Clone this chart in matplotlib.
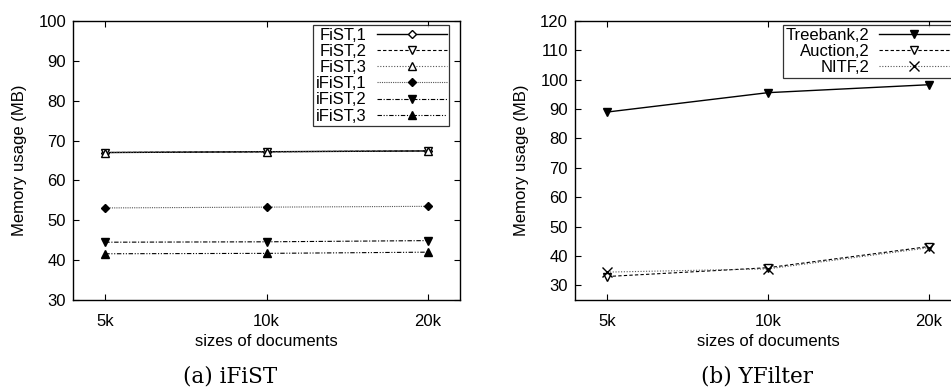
import matplotlib
matplotlib.use("Agg")
import matplotlib.pyplot as plt

plt.rcParams["font.family"] = ["Liberation Sans", "DejaVu Sans"]

sizes = ["5k", "10k", "20k"]

# (a) iFiST
fist_1 = [67.0, 67.2, 67.4]
fist_2 = [67.0, 67.2, 67.4]
fist_3 = [67.0, 67.2, 67.4]
ifist_1 = [53.1, 53.3, 53.5]
ifist_2 = [44.5, 44.6, 44.9]
ifist_3 = [41.6, 41.7, 42.0]

# (b) YFilter
treebank_2 = [89.0, 95.6, 98.3]
auction_2 = [33.0, 36.0, 43.2]
nitf_2 = [34.5, 35.6, 42.8]

FS = 12


def style_axes(ax, ylim, yticks):
    x = range(len(sizes))
    ax.set_xticks(list(x))
    ax.set_xticklabels(sizes)
    ax.set_xlim(-0.2, 2.2)
    ax.set_ylim(*ylim)
    ax.set_yticks(yticks)
    ax.tick_params(axis="both", direction="in", top=True, right=True, length=4, width=0.8,
                   labelsize=FS)
    ax.tick_params(axis="x", pad=10)
    ax.tick_params(axis="y", pad=5)
    ax.set_xlabel("sizes of documents", fontsize=FS, labelpad=4)
    ax.set_ylabel("Memory usage (MB)", fontsize=FS, labelpad=8)
    for s in ax.spines.values():
        s.set_linewidth(1.0)


def right_align_legend(leg):
    for col in leg._legend_handle_box.get_children():
        col.align = "right"


fig = plt.figure(figsize=(9.51, 3.87), dpi=100)

# left panel
ax1 = fig.add_axes([73 / 951, 1 - 300 / 387, 387 / 951, 279 / 387])
x = list(range(len(sizes)))
ms = 5.5
ax1.plot(x, fist_1, color="black", lw=1.0, ls="-", marker="D", mfc="white", ms=4.5, label="FiST,1")
ax1.plot(x, fist_2, color="black", lw=0.8, ls=(0, (3, 2)), marker="v", mfc="white", ms=ms, label="FiST,2")
ax1.plot(x, fist_3, color="#555555", lw=0.8, ls=(0, (1, 1.5)), marker="^", mfc="white", mec="black", ms=ms, label="FiST,3")
ax1.plot(x, ifist_1, color="#555555", lw=0.8, ls=(0, (1, 1)), marker="D", mfc="black", mec="black", ms=4.5, label="iFiST,1")
ax1.plot(x, ifist_2, color="black", lw=0.8, ls=(0, (4, 1.5, 1, 1.5)), marker="v", mfc="black", ms=ms, label="iFiST,2")
ax1.plot(x, ifist_3, color="black", lw=0.8, ls=(0, (4, 1.5, 1, 1.5, 1, 1.5)), marker="^", mfc="black", ms=ms, label="iFiST,3")
style_axes(ax1, (30, 100), list(range(30, 101, 10)))
leg1 = ax1.legend(loc="upper right", bbox_to_anchor=(0.972, 0.985), markerfirst=False,
                  fontsize=FS, frameon=True, fancybox=False, edgecolor="black",
                  borderpad=0.15, labelspacing=0.07, handlelength=4.2, handletextpad=0.6,
                  borderaxespad=0.0)
leg1.get_frame().set_linewidth(0.9)
right_align_legend(leg1)
fig.text(230 / 951, 1 - 376 / 387, "(a) iFiST", ha="center", va="center",
         fontsize=15.5, family="DejaVu Serif")

# right panel (cropped at the figure's right edge)
ax2 = fig.add_axes([575 / 951, 1 - 300 / 387, 386 / 951, 279 / 387])
ax2.plot(x, treebank_2, color="black", lw=1.0, ls="-", marker="v", mfc="black", ms=ms, label="Treebank,2")
ax2.plot(x, auction_2, color="black", lw=0.8, ls=(0, (3, 2)), marker="v", mfc="white", ms=ms, label="Auction,2")
ax2.plot(x, nitf_2, color="#555555", lw=0.8, ls=(0, (1, 1.5)), marker="x", mec="black", ms=6.5, label="NITF,2")
style_axes(ax2, (25, 120), list(range(30, 121, 10)))
leg2 = ax2.legend(loc="upper left", bbox_to_anchor=(208 / 386, 0.985), markerfirst=False,
                  fontsize=FS, frameon=True, fancybox=False, edgecolor="black",
                  borderpad=0.15, labelspacing=0.07, handlelength=4.2, handletextpad=0.6,
                  borderaxespad=0.0)
leg2.get_frame().set_linewidth(0.9)
right_align_legend(leg2)
fig.text(757 / 951, 1 - 376 / 387, "(b) YFilter", ha="center", va="center",
         fontsize=15.5, family="DejaVu Serif")

fig.savefig("out.png", dpi=100)
